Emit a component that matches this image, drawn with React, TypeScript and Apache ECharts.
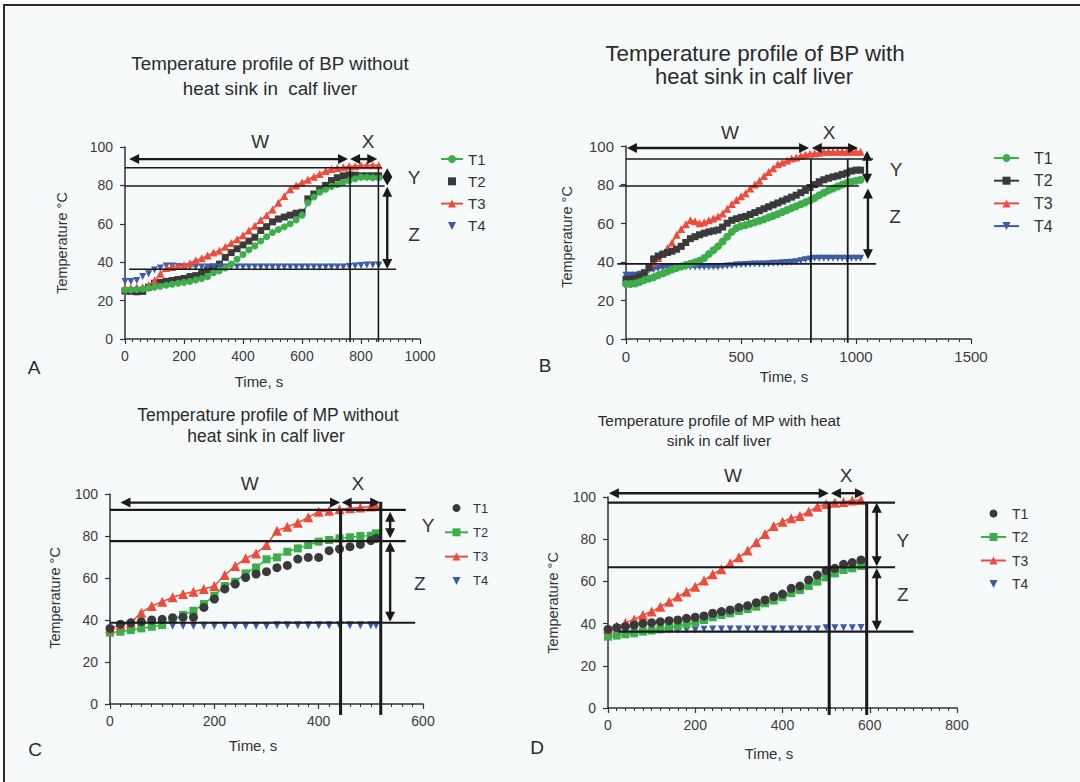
import React, { useEffect, useRef } from "react";
import * as echarts from "echarts";

const FONT = '"Liberation Sans", Arial, Helvetica, sans-serif';
const GREEN = "#3dae49";
const BLACK = "#3a3a3a";
const RED = "#ee4b3b";
const BLUE = "#3d5aa8";
const INK = "#1a1a1a";

// ---------- Panel A: BP without heat sink ----------
const aTime = [0,20,40,60,80,100,120,140,160,180,200,220,240,260,280,300,320,340,360,380,400,420,440,460,480,500,520,540,560,580,600,620,640,660,680,700,720,740,760,780,800,820,840,860];
const aT1 = [25.5,25.5,25.8,26,26.5,27,27.5,28,28.5,29,29.5,30,30.8,31.5,32.5,34.5,35.5,37,39,41.5,44,46.5,48.5,51,53.3,55.5,57,58.5,60,62,64.5,71,74,76.5,78,79.5,80.5,81.5,82.5,83.5,84.3,84.2,84,84];
const aT2 = [25,24.8,24.6,24.8,27,29,29.5,30,30.5,31,31.5,32.5,33,34.5,36,37.5,39,42.5,45,47,49,51,53,56.5,58.5,61,62.5,63.5,64.5,65.5,66,73,75.5,77.5,80,82.5,84,85,85.5,85.3,85,85,85,85];
const aT3 = [26.5,26.5,26.8,27,28,30.5,34,37,37.5,38,38.5,39.5,41,42,43.5,45,46,48,50,52,54,56.5,59,62,64.5,67.5,71,74.5,78,80,81.5,83,84.5,86,87.5,88.5,89,89.5,90,90,90.5,90.5,90.5,90.5];
const aT4 = [30,30,30.5,32.5,34,36,37,38,38,37.8,37.5,37.5,37.5,37.5,37.5,37.5,37.5,37.5,37.5,37.5,37.5,37.5,37.5,37.5,37.5,37.5,37.5,37.5,37.5,37.5,37.5,37.5,37.5,37.5,37.5,37.5,37.5,37.5,37.8,38,38.3,38.5,38.5,38.5];

// ---------- Panel B: BP with heat sink ----------
const bTime = [0,20,40,60,80,100,120,140,160,180,200,220,240,260,280,300,320,340,360,380,400,420,440,460,480,500,520,540,560,580,600,620,640,660,680,700,720,740,760,780,800,820,840,860,880,900,920,940,960,980,1000,1020];
const bT1 = [28.5,28.5,28.8,29.5,30.5,31.3,32,33,34,35,36,36.8,37.5,38.3,39,39.8,40.5,42,44,46,48,50.5,53,55.5,57.5,58.5,59,59.8,60.5,61.3,62,63,63.8,64.8,65.8,66.8,67.8,68.8,69.8,70.8,71.8,73,74.5,75.8,77,78,79,80,80.8,81.5,82,82.5];
const bT2 = [31,31,31.5,32.5,34,37,41.5,43,44,44.8,45.5,46.5,48,50,52,53,54,54.8,55.5,56,56.5,58,60,61.5,62.3,63,63.5,64.5,65.5,66.5,67.5,68.5,69.5,70.5,71.5,72.5,73.5,74.5,75.8,77,78.5,80,81.5,82.5,83.3,84,84.5,85.3,86,87,87.5,87.5];
const bT3 = [30,30.5,31,32.5,34.5,37,39.5,42,44,47,50,54,57,59.5,61.5,61,60,60.5,61.5,62.5,63.5,65,67.5,70,72,74,75.5,78,80,82,84.5,86.5,88.5,90.5,91.5,92.5,93.5,94,95,95.5,96,96.3,96.5,97,97,97,97,97,97,97,97,97];
const bT4 = [33,33,33,33.5,34.5,35.5,36,36.5,37,37.3,37.3,37.3,37.3,37.3,37.3,37.3,37.3,37.3,37.3,37.3,37.3,37.6,37.8,38,38.3,38.5,38.6,38.7,38.8,38.8,38.9,39,39.2,39.3,39.5,39.6,39.8,40,40.5,41,41.5,41.8,41.8,41.8,41.8,41.8,41.8,41.8,41.8,41.8,41.8,41.8];

// ---------- Panel C: MP without heat sink ----------
const cTime = [0,20,40,60,80,100,120,140,160,180,200,220,240,260,280,300,320,340,360,380,400,420,440,460,480,500,510];
const cT1 = [36,38,38.7,39.2,40,40.3,41.1,41.3,41.3,46,50,54.8,57.1,60.2,61.9,63,64.9,66,69,69.8,69.8,73,73.8,74.9,76,77.8,78.9];
const cT2 = [34,34.4,35.2,36,36.8,37.6,40,42.4,44.4,47.6,51.6,56.2,58.2,62.2,65,68.9,69.8,72.5,74.1,75.7,77.3,78.1,78.9,79.4,80,80.1,81.3];
const cT3 = [36,37.6,38.7,43.5,46.7,48.7,50.8,52.4,53.5,54.8,56.2,61.4,65.7,69.4,71.7,75.7,82.5,84.4,86.3,88.9,91.6,92,92.7,93.2,93.6,94,94.3];
const cT4 = [35,35.5,36,36.5,37,37.3,37.3,37.3,37.3,37.3,37.3,37.3,37.3,37.3,37.3,37.3,37.5,37.5,37.5,37.5,37.5,37.5,37.5,37.5,37.5,37.5,37.5];

// ---------- Panel D: MP with heat sink ----------
const dTime = [0,20,40,60,80,100,120,140,160,180,200,220,240,260,280,300,320,340,360,380,400,420,440,460,480,500,520,540,560,580];
const dT1 = [37.3,38.1,38.6,39.3,40.1,40.4,40.9,41.4,41.7,42.5,43,43.6,44.9,45.7,46.5,47.6,48.5,49.9,51.2,52.8,54,56.7,57.8,60.7,63,65.1,66.2,68.1,68.9,70.2];
const dT2 = [33.8,34.3,34.9,35.4,36.2,36.7,37.3,38.1,38.9,39.7,40.4,41.7,43,44.1,44.9,46,46.9,48,49.6,50.9,52.5,54.4,55.9,57.8,59.9,61.9,63.8,65.4,66.2,67.3];
const dT3 = [37.3,38.6,40.4,42,44.1,45.7,48,50.4,52.8,55.1,57.5,60.4,63.4,65.7,68.6,71.4,74.6,78.5,82.5,86.3,88.3,89.9,91,93.1,95.4,96.7,97.3,97.6,98.3,98.6];
const dT4 = [36,36.2,36.3,36.4,36.5,36.6,36.7,36.8,36.9,37,37,37.3,37.5,37.5,37.5,37.5,37.5,37.5,37.5,37.5,37.5,37.5,37.5,37.5,37.5,38,38,38,38,38.2];

// Axis ranges / ticks
const xMax = [1000, 1500, 600, 800];
const xInterval = [200, 500, 200, 200];
const xMinorSplit = [8, 10, 10, 10];
const yTicks = [0, 20, 40, 60, 80, 100];

// Annotation guides (data coordinates)
// horizontal: [y, x1, x2]; vertical: [x, y1, y2]; arrows: [x1, y1, x2, y2]; marks: [text, x, y]
const hLines = [
  [[89.2, 0, 870], [79.7, 0, 880], [36.3, 14, 919]],
  [[93.3, 0, 1074], [79.3, -30, 1013], [38.9, -38, 1087]],
  [[92.4, 0, 567], [77.6, 0, 567], [38.7, 0, 585]],
  [[97.3, 0, 658], [66.7, 0, 658], [36.2, 24, 700]],
];
const vLines = [
  [[763, 89.2, -1.5], [859, 89.2, -1.5]],
  [[804, 93.3, -2], [964, 93.3, -2]],
  [[442, 92.4, -5.2], [519, 96.3, -5.2]],
  [[507, 97.3, -3.3], [593, 97.3, -3.3]],
];
const arrows = [
  [[14, 93.7, 756, 93.7], [763, 93.7, 855, 93.7], [889, 88.9, 889, 79.9], [889, 79.3, 889, 36.5]],
  [[4, 99, 796, 99], [808, 99, 1009, 99], [1048, 97.5, 1048, 80.5], [1052, 78, 1052, 41.3]],
  [[20, 95.9, 441, 95.9], [444, 95.9, 518, 95.9], [537, 91.6, 537, 78.9], [537, 77.3, 537, 39.2]],
  [[2, 101.8, 506, 101.8], [511, 101.8, 589, 101.8], [616, 97.3, 616, 67.2], [616, 66.2, 616, 36.6]],
];
const marks = [
  [["W", 458, 102.8], ["X", 824, 102.8], ["Y", 980, 83.9], ["Z", 980, 54.2]],
  [["W", 452, 107], ["X", 883, 107], ["Y", 1174, 88], ["Z", 1170, 63.7]],
  [["W", 268, 105.2], ["X", 475, 105.2], ["Y", 610, 85.2], ["Z", 594, 57.6]],
  [["W", 286.5, 110.4], ["X", 545.5, 110.4], ["Y", 676, 79.6], ["Z", 676, 53.6]],
];
const guideWidth = [1.6, 1.6, 2.2, 2.2];
const vGuideWidth = [1.6, 1.8, 3, 3];

// Texts
const titles: [string, number, number, number][] = [
  ["Temperature profile of BP without", 270, 63, 18.8],
  ["heat sink in  calf liver", 270, 88, 18.8],
  ["Temperature profile of BP with", 755, 53, 22.4],
  ["heat sink in calf liver", 754, 76, 22],
  ["Temperature profile of MP without", 268, 415, 17.5],
  ["heat sink in calf liver", 266, 436, 17.5],
  ["Temperature profile of MP with heat", 719, 420, 15.4],
  ["sink in calf liver", 719, 440, 15.4],
];
const panelLetters: [string, number, number][] = [["A", 34, 367], ["B", 545, 365], ["C", 35, 749], ["D", 537, 747]];
const xTitlePos: [number, number][] = [[259, 381], [784, 376], [253, 745], [769, 753]];
const yTitlePos: [number, number][] = [[62, 243], [567, 237], [55, 598], [553, 603]];

const grids = [
  { left: 125, top: 147, width: 295, height: 192 },
  { left: 626, top: 146, width: 345, height: 193 },
  { left: 110, top: 494, width: 313, height: 210 },
  { left: 608, top: 497, width: 349, height: 211 },
];
const tickFont = [14, 15, 14, 14];
const legendPos = [
  { left: 440, top: 151.5, gap: 7.3, font: 15, pad: 0, w: 22 },
  { left: 993, top: 150, gap: 6.7, font: 16, pad: 10, w: 25 },
  { left: 444, top: 501.5, gap: 11.3, font: 13, pad: 0, w: 23 },
  { left: 980, top: 506.5, gap: 9.5, font: 14, pad: 1, w: 25 },
];

function ser(
  name: string, gi: number, times: number[], vals: number[], color: string,
  symbol: string, size: number, showLine: boolean, rotate = 0, z = 2
) {
  return {
    name,
    type: "line",
    xAxisIndex: gi,
    yAxisIndex: gi,
    data: times.map((t, i) => [t, vals[i]]),
    symbol,
    symbolSize: size,
    symbolRotate: rotate,
    showSymbol: true,
    showAllSymbol: true,
    lineStyle: { color, width: 1.5, opacity: showLine ? 1 : 0 },
    itemStyle: { color },
    emphasis: { disabled: true },
    z,
  };
}

function txt(text: string, x: number, y: number, size: number, color: string): any {
  return {
    type: "text", x, y, z: 60, silent: true,
    style: {
      text, fill: color, fontSize: size, fontFamily: FONT,
      align: "center", verticalAlign: "middle",
      textAlign: "center", textVerticalAlign: "middle",
    },
  };
}

function buildGraphics(chart: any) {
  const els: any[] = [];
  els.push({
    type: "rect", z: -10, silent: true,
    shape: { x: 4, y: 5, width: 1100, height: 800 },
    style: { fill: "#f6fafb", stroke: "#2a2a2a", lineWidth: 2 },
  });
  for (let gi = 0; gi < 4; gi++) {
    const P = (x: number, y: number) => chart.convertToPixel({ gridIndex: gi }, [x, y]);
    hLines[gi].forEach(([y, x1, x2]) => {
      const a = P(x1, y), b = P(x2, y);
      els.push({ type: "line", z: 50, silent: true, shape: { x1: a[0], y1: a[1], x2: b[0], y2: b[1] }, style: { stroke: INK, lineWidth: guideWidth[gi] } });
    });
    vLines[gi].forEach(([x, y1, y2]) => {
      const a = P(x, y1), b = P(x, y2);
      els.push({ type: "line", z: 50, silent: true, shape: { x1: a[0], y1: a[1], x2: b[0], y2: b[1] }, style: { stroke: INK, lineWidth: vGuideWidth[gi] } });
    });
    arrows[gi].forEach(([x1, y1, x2, y2]) => {
      const a = P(x1, y1), b = P(x2, y2);
      const dx = b[0] - a[0], dy = b[1] - a[1];
      const len = Math.hypot(dx, dy) || 1;
      const ux = dx / len, uy = dy / len;
      const L = Math.min(10, len / 2), W = 5;
      const head = (tip: number[], s: number) => {
        const bx = tip[0] - s * ux * L, by = tip[1] - s * uy * L;
        return [[tip[0], tip[1]], [bx - uy * W, by + ux * W], [bx + uy * W, by - ux * W]];
      };
      els.push({
        type: "line", z: 51, silent: true,
        shape: { x1: a[0] + ux * L * 0.8, y1: a[1] + uy * L * 0.8, x2: b[0] - ux * L * 0.8, y2: b[1] - uy * L * 0.8 },
        style: { stroke: INK, lineWidth: 2.4 },
      });
      els.push({ type: "polygon", z: 52, silent: true, shape: { points: head(b, 1) }, style: { fill: INK } });
      els.push({ type: "polygon", z: 52, silent: true, shape: { points: head(a, -1) }, style: { fill: INK } });
    });
    marks[gi].forEach(([t, x, y]) => {
      const p = P(x as number, y as number);
      els.push(txt(t as string, p[0], p[1], 19, "#333"));
    });
  }
  titles.forEach(([t, x, y, s]) => els.push(txt(t, x, y, s, "#2b2b2b")));
  panelLetters.forEach(([t, x, y]) => els.push(txt(t, x, y, 19, "#2b2b2b")));
  xTitlePos.forEach(([x, y]) => els.push(txt("Time, s", x, y, 15, "#333")));
  yTitlePos.forEach(([x, y]) => {
    const e = txt("Temperature °C", x, y, 14.5, "#333");
    e.rotation = Math.PI / 2;
    els.push(e);
  });
  return els;
}

function buildOption() {
  const series: any[] = [
    // A
    ser("A·T2", 0, aTime, aT2, BLACK, "rect", 7, false),
    ser("A·T4", 0, aTime, aT4, BLUE, "triangle", 7, false, 180),
    ser("A·T3", 0, aTime, aT3, RED, "triangle", 8, true),
    ser("A·T1", 0, aTime, aT1, GREEN, "circle", 7, true),
    // B
    ser("B·T4", 1, bTime, bT4, BLUE, "triangle", 7, true, 180),
    ser("B·T3", 1, bTime, bT3, RED, "triangle", 8, true),
    ser("B·T2", 1, bTime, bT2, BLACK, "rect", 7, true),
    ser("B·T1", 1, bTime, bT1, GREEN, "circle", 8, true),
    // C
    ser("C·T4", 2, cTime, cT4, BLUE, "triangle", 8, false, 180),
    ser("C·T2", 2, cTime, cT2, GREEN, "rect", 8, true),
    ser("C·T3", 2, cTime, cT3, RED, "triangle", 10, true),
    ser("C·T1", 2, cTime, cT1, BLACK, "circle", 9, false),
    // D
    ser("D·T4", 3, dTime, dT4, BLUE, "triangle", 7, false, 180),
    ser("D·T2", 3, dTime, dT2, GREEN, "rect", 8, true),
    ser("D·T3", 3, dTime, dT3, RED, "triangle", 10, true),
    ser("D·T1", 3, dTime, dT1, BLACK, "circle", 9, false),
  ];
  const letters = ["A", "B", "C", "D"];
  const axisCommon = (gi: number) => ({
    gridIndex: gi,
    type: "value",
    axisLine: { show: true, onZero: false, lineStyle: { color: "#333", width: 1.5 } },
    axisTick: { show: true, length: 5, lineStyle: { color: "#333", width: 1.2 } },
    splitLine: { show: false },
  });
  return {
    animation: false,
    backgroundColor: "#ffffff",
    grid: grids.map((g) => ({ ...g, containLabel: false })),
    xAxis: grids.map((_, gi) => ({
      ...axisCommon(gi),
      min: 0,
      max: xMax[gi],
      interval: xInterval[gi],
      minorTick: { show: true, splitNumber: xMinorSplit[gi], length: 3, lineStyle: { color: "#333", width: 1 } },
      axisLabel: { fontSize: tickFont[gi], color: "#3c3c3c", margin: 10, fontFamily: FONT, formatter: (v: number) => String(v) },
    })),
    yAxis: grids.map((_, gi) => ({
      ...axisCommon(gi),
      min: yTicks[0],
      max: yTicks[yTicks.length - 1],
      interval: yTicks[1] - yTicks[0],
      axisLabel: { fontSize: tickFont[gi], color: "#3c3c3c", margin: 12, fontFamily: FONT, formatter: (v: number) => String(v) },
    })),
    legend: legendPos.map((l, gi) => ({
      data: ["T1", "T2", "T3", "T4"].map((t) => `${letters[gi]}·${t}`),
      orient: "vertical",
      left: l.left,
      top: l.top,
      padding: 0,
      itemWidth: l.w,
      itemHeight: 10,
      itemGap: l.gap,
      selectedMode: false,
      formatter: (n: string) => n.split("·")[1],
      textStyle: { fontSize: l.font, color: "#333", fontFamily: FONT, padding: [0, 0, 0, l.pad] },
    })),
    series,
  };
}

export default function App() {
  const ref = useRef<HTMLDivElement>(null);
  useEffect(() => {
    if (!ref.current) return;
    const chart = echarts.init(ref.current, null, { renderer: "svg", width: 1080, height: 782 });
    chart.setOption(buildOption() as any);
    chart.setOption({ graphic: { elements: buildGraphics(chart) } } as any);
    return () => chart.dispose();
  }, []);
  return (
    <div
      ref={ref}
      style={{ position: "absolute", left: 0, top: 0, width: 1080, height: 782 }}
    />
  );
}
